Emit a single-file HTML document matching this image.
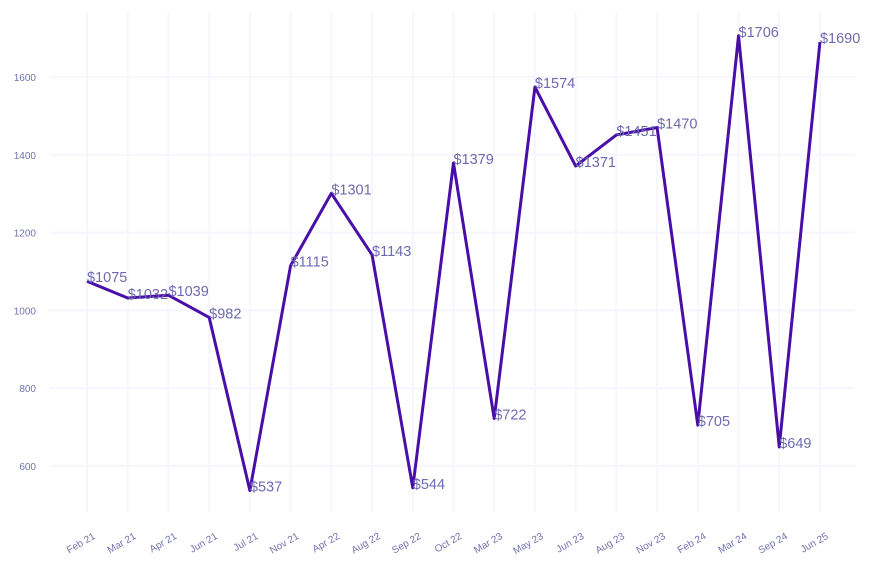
<!DOCTYPE html><html><head><style>body{margin:0;background:#fff}svg{display:block;font-family:"Liberation Sans",Arial,sans-serif}</style></head><body>
<svg width="873" height="565" xmlns="http://www.w3.org/2000/svg">
<g id="g" stroke="#f7f6fe" stroke-width="2"></g>
<g id="yl" fill="#7272b0" font-size="10" text-anchor="end"></g>
<g id="xl" fill="#7272b0" font-size="10" text-anchor="end"></g>
<polyline id="ln" fill="none" stroke="#4a0ea8" stroke-width="3" stroke-linejoin="round"/>
<g id="dl" fill="#6e6ab2" font-size="14.5"></g>
</svg>
<script>
var L=["Feb 21","Mar 21","Apr 21","Jun 21","Jul 21","Nov 21","Apr 22","Aug 22","Sep 22","Oct 22","Mar 23","May 23","Jun 23","Aug 23","Nov 23","Feb 24","Mar 24","Sep 24","Jun 25"];
var V=[1075,1032,1039,982,537,1115,1301,1143,544,1379,722,1574,1371,1451,1470,705,1706,649,1690];
function X(i){return 87+i*40.72}function Y(v){return 466-(v-600)*0.389}
var ns="http://www.w3.org/2000/svg";function el(p,t,a,tx){var e=document.createElementNS(ns,t);for(var k in a)e.setAttribute(k,a[k]);if(tx)e.textContent=tx;document.getElementById(p).appendChild(e);}
for(var v=600;v<=1600;v+=200){el("g","line",{x1:50,x2:855,y1:Y(v),y2:Y(v)});el("yl","text",{x:36,y:Y(v)+4},v);}
var pts=[];
for(var i=0;i<19;i++){var x=X(i);el("g","line",{x1:x,x2:x,y1:12,y2:512});
el("xl","text",{transform:"translate("+(x+9)+",538) rotate(-30)"},L[i]);
pts.push(x+","+Y(V[i]));el("dl","text",{x:x,y:Y(V[i])+1}, "$"+V[i]);}
document.getElementById("ln").setAttribute("points",pts.join(" "));
</script>
</body></html>
